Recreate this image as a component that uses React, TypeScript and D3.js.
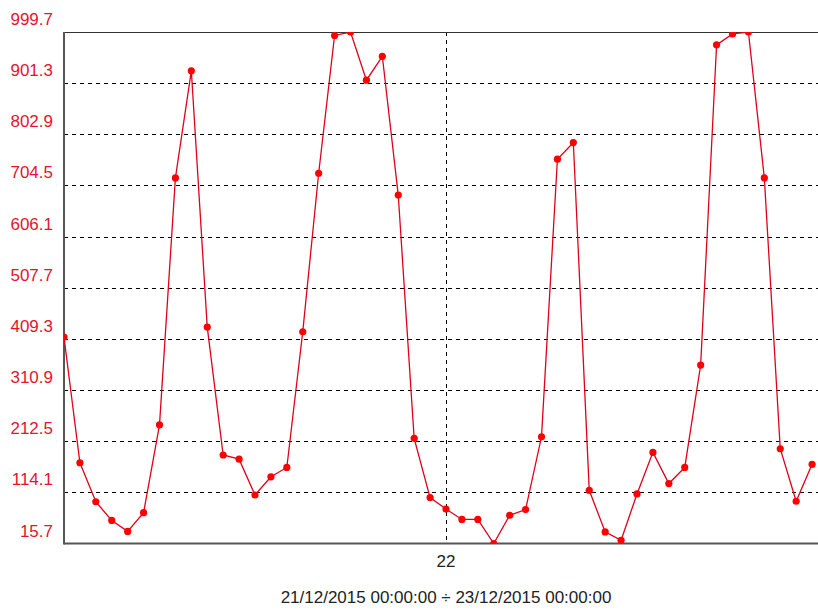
import React from "react";
import * as d3 from "d3";

const startTime = new Date(2015, 11, 21, 0, 0, 0);
const endTime = new Date(2015, 11, 23, 0, 0, 0);
const values: number[] = [
  413, 171, 96, 60, 39, 75, 244, 719, 925, 432,
  186, 178, 109, 144, 162, 423, 728, 993, 999.7, 907,
  953, 686, 218, 104, 82, 62, 62, 15.7, 70, 81,
  221, 755, 787, 118, 38, 22, 111, 191, 131, 162,
  359, 975, 996, 999.7, 719, 198, 97, 168,
];
const yTicks: number[] = [15.7, 114.1, 212.5, 310.9, 409.3, 507.7, 606.1, 704.5, 802.9, 901.3, 999.7];
const xTickDates: Date[] = [new Date(2015, 11, 22, 0, 0, 0)];
const xTickLabels: string[] = ["22"];
const caption = "21/12/2015 00:00:00 ÷ 23/12/2015 00:00:00";

const W = 818;
const H = 610;
const left = 64;
const top = 32;
const bottom = 543.5;
const right = 828;

export default function App() {
  const x = d3.scaleTime().domain([startTime, endTime]).range([left, right]);
  const y = d3.scaleLinear().domain([15.7, 999.7]).range([bottom, top]);
  const data = values.map((v, i) => ({ t: new Date(startTime.getTime() + i * 3600 * 1000), v }));
  const line = d3
    .line<{ t: Date; v: number }>()
    .x((d) => x(d.t))
    .y((d) => y(d.v));
  const font = "'Liberation Sans', Arial, sans-serif";
  return (
    <svg
      width={W}
      height={H}
      style={{ position: "absolute", left: 0, top: 0, background: "#fff" }}
      fontFamily={font}
    >
      <defs>
        <clipPath id="plot">
          <rect x={left} y={top} width={right - left} height={bottom - top} />
        </clipPath>
      </defs>
      {yTicks.slice(1, -1).map((t) => (
        <line
          key={"g" + t}
          x1={left}
          x2={right}
          y1={Math.round(y(t)) + 0.5}
          y2={Math.round(y(t)) + 0.5}
          stroke="#000"
          strokeWidth={1}
          strokeDasharray="4,4"
        />
      ))}
      {xTickDates.map((d) => (
        <line
          key={"v" + d.getTime()}
          x1={Math.round(x(d)) + 0.5}
          x2={Math.round(x(d)) + 0.5}
          y1={top}
          y2={bottom}
          stroke="#000"
          strokeWidth={1}
          strokeDasharray="4,4"
        />
      ))}
      <line x1={left} x2={W} y1={top + 0.5} y2={top + 0.5} stroke="#333" strokeWidth={1} />
      <line x1={left} x2={W} y1={bottom} y2={bottom} stroke="#555" strokeWidth={2} />
      <line x1={left} x2={left} y1={top} y2={bottom + 1} stroke="#555" strokeWidth={2} />
      <g clipPath="url(#plot)">
        <path d={line(data) || ""} fill="none" stroke="#e0001c" strokeWidth={1.3} />
        {data.map((d, i) => (
          <circle key={i} cx={x(d.t)} cy={y(d.v)} r={3.6} fill="#ff0000" />
        ))}
      </g>
      {yTicks.map((t) => (
        <text
          key={"l" + t}
          x={53}
          y={y(t) - 7}
          textAnchor="end"
          fontSize={17}
          fill="#e3142e"
        >
          {t.toFixed(1)}
        </text>
      ))}
      {xTickDates.map((d, i) => (
        <text key={"xl" + i} x={x(d)} y={567} textAnchor="middle" fontSize={17} fill="#222">
          {xTickLabels[i]}
        </text>
      ))}
      <text x={446} y={603} textAnchor="middle" fontSize={17} fill="#222">
        {caption}
      </text>
    </svg>
  );
}
